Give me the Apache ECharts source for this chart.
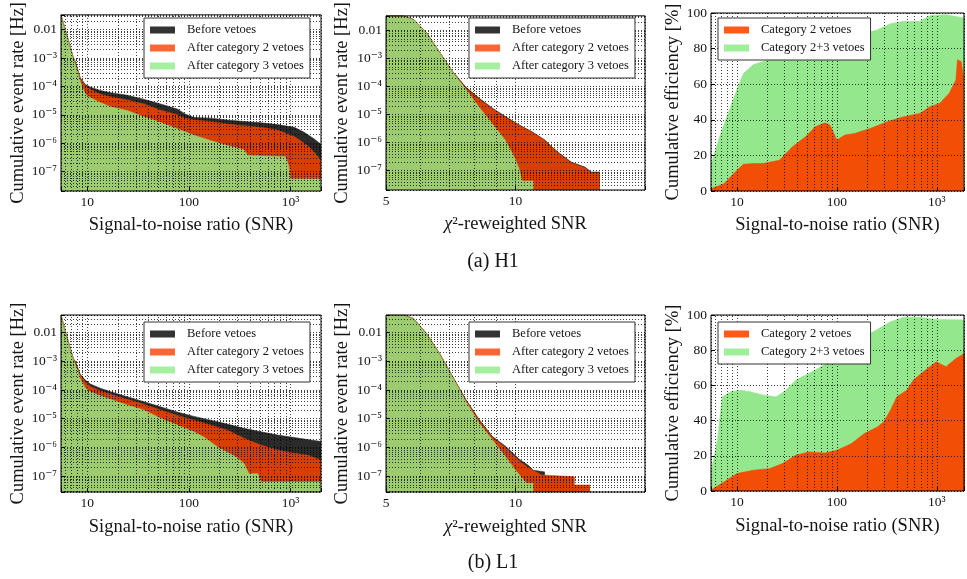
<!DOCTYPE html>
<html><head><meta charset="utf-8">
<script src="https://cdn.jsdelivr.net/npm/echarts@6/dist/echarts.min.js"></script>
<style>html,body{margin:0;padding:0;background:#fff}#c{width:967px;height:579px}</style>
</head><body><div id="c"></div>
<script>
// ---------------- data ----------------
// Cumulative event rate [Hz] vs SNR, H1
const h1SnrBefore = [[5.5,0.033],[6.3,6.4e-3],[7.3,1.0e-3],[7.6,7.6e-4],[8.5,2.0e-4],[9.55,1.17e-4],[10.7,9.4e-5],[13.4,7.2e-5],[16.9,6.0e-5],[24.6,4.9e-5],[36,3.5e-5],[52.5,2.4e-5],[76.7,1.6e-5],[92.7,1.05e-5],[112,8.0e-6],[163,7.6e-6],[238,6.5e-6],[348,5.8e-6],[510,5.2e-6],[745,4.5e-6],[1090,3.6e-6],[1366,2.4e-6],[1717,1.4e-6],[2000,9e-7]];
const h1SnrCat2 = [[5.5,0.033],[6.3,6.3e-3],[7.3,9.8e-4],[7.6,7.4e-4],[8.5,1.9e-4],[9.55,1.05e-4],[10.7,7.9e-5],[13.4,5.3e-5],[16.9,4.3e-5],[24.6,3.3e-5],[36,2.4e-5],[52.5,1.45e-5],[76.7,1.0e-5],[92.7,7.6e-6],[112,6.5e-6],[163,5.8e-6],[238,4.7e-6],[348,4.1e-6],[510,3.6e-6],[745,2.9e-6],[935,2.1e-6],[1090,1.7e-6],[1260,1.2e-6],[1470,8.2e-7],[1717,4.8e-7],[2000,2.5e-7]];
const h1SnrCat3 = [[5.5,0.033],[6.3,6.2e-3],[7.3,9.5e-4],[8.0,3.5e-4],[8.5,1.5e-4],[9.55,5.3e-5],[10.7,4.0e-5],[13.4,2.7e-5],[16.9,1.9e-5],[24.6,1.4e-5],[36,8.5e-6],[52.5,5.4e-6],[76.7,3.2e-6],[112,1.9e-6],[163,1.23e-6],[238,8.3e-7],[348,5.9e-7],[380,3.7e-7],[900,3.3e-7],[960,1.6e-7],[1000,5.5e-8],[2000,5.5e-8]];
// Cumulative event rate [Hz] vs chi^2-reweighted SNR, H1
const h1ChiBefore = [[5,0.033],[5.49,0.033],[5.79,0.025],[6.21,8.5e-3],[6.66,1.7e-3],[7.15,3.4e-4],[7.67,9.5e-5],[8.24,3.8e-5],[8.84,1.7e-5],[9.48,8.5e-6],[10.2,4.3e-6],[10.9,2.5e-6],[11.7,1.25e-6],[12.1,7.5e-7],[12.6,4.4e-7],[13.5,2.0e-7],[14.5,1.35e-7],[15.0,9e-8],[15.7,9e-8]];
const h1ChiCat2 = [[5,0.033],[5.49,0.033],[5.79,0.025],[6.21,8.4e-3],[6.66,1.7e-3],[7.15,3.3e-4],[7.67,8.9e-5],[8.24,3.5e-5],[8.84,1.6e-5],[9.48,8.0e-6],[10.2,4.1e-6],[10.9,2.4e-6],[11.7,1.2e-6],[12.1,7.2e-7],[12.6,4.2e-7],[13.5,1.9e-7],[14.5,1.27e-7],[15.0,8.5e-8],[15.7,8.5e-8]];
const h1ChiCat3 = [[5,0.033],[5.49,0.033],[5.79,0.025],[6.21,8.4e-3],[6.66,1.7e-3],[7.15,3.3e-4],[7.4,1.6e-4],[7.67,7.9e-5],[8.24,1.8e-5],[8.84,4.6e-6],[9.48,1.2e-6],[10.0,2.5e-7],[10.2,1.1e-7],[10.36,4.3e-8],[11.0,4.3e-8]];
// Cumulative efficiency [%] vs SNR, H1
const h1EffCat2 = [[5.5,1.3],[7.4,4.1],[10,11.7],[11.6,15],[14.6,15.4],[18.2,15.4],[26.6,17.3],[35.9,24.8],[48.6,30.5],[60.8,36.1],[76.2,38.3],[85.3,37],[100,28.6],[120,31.4],[150,32.3],[218,35.2],[318,38.9],[464,41.7],[676,43.6],[850,47.4],[1062,49.2],[1330,54.9],[1550,62.4],[1607,73.7],[1750,72.7],[1850,63]];
const h1EffCat23 = [[5.5,15],[6.85,32],[8.6,47],[10,57],[11.6,66],[14.6,71],[22.9,74.5],[33.3,76.5],[48.6,79.3],[100,83],[150,86.8],[254,90.6],[343,94],[464,95.3],[676,95.3],[850,98.5],[1233,99],[1550,98],[2000,97]];
// L1
const l1SnrBefore = [[5.5,0.0407],[6.3,7e-3],[7.3,1.2e-3],[7.6,1.0e-3],[8.5,3.5e-4],[9.55,2.2e-4],[10.7,1.6e-4],[13.4,1.15e-4],[16.9,8.7e-5],[24.6,5.8e-5],[36,3.9e-5],[52.5,2.6e-5],[76.7,1.7e-5],[112,1.2e-5],[163,8.9e-6],[238,6.5e-6],[348,4.6e-6],[510,3.5e-6],[745,2.7e-6],[1090,2.2e-6],[2000,1.6e-6]];
const l1SnrCat2 = [[5.5,0.0407],[6.3,6.9e-3],[7.3,1.18e-3],[7.6,9.5e-4],[8.5,3.3e-4],[9.55,1.9e-4],[10.7,1.3e-4],[13.4,9.3e-5],[16.9,7.2e-5],[24.6,4.7e-5],[36,3.2e-5],[52.5,2.0e-5],[76.7,1.3e-5],[112,8.9e-6],[163,6.0e-6],[238,4.0e-6],[348,2.1e-6],[510,1.2e-6],[745,8.1e-7],[1090,6.2e-7],[1470,5.4e-7],[2000,3.6e-7]];
const l1SnrCat3 = [[5.5,0.0407],[6.3,6.8e-3],[7.3,1.1e-3],[8.0,5e-4],[8.5,2.5e-4],[9.55,1.15e-4],[10.7,8.7e-5],[13.4,6.2e-5],[16.9,4.7e-5],[24.6,3.0e-5],[36,2.0e-5],[52.5,1.03e-5],[76.7,6.0e-6],[112,3.5e-6],[140,2.3e-6],[200,9.3e-7],[290,4.7e-7],[348,2.8e-7],[390,1.2e-7],[480,1.2e-7],[510,6.3e-8],[2000,6.3e-8]];
const l1ChiBefore = [[5,0.0407],[5.49,0.0407],[5.79,0.031],[6.21,9.3e-3],[6.66,1.9e-3],[7.15,2.9e-4],[7.67,4.6e-5],[8.24,9.2e-6],[8.84,2.4e-6],[9.48,1.1e-6],[10.2,3.9e-7],[10.7,2.4e-7],[11.0,1.6e-7],[11.7,1.4e-7]];
const l1ChiCat2 = [[5,0.0407],[5.49,0.0407],[5.79,0.031],[6.21,9.2e-3],[6.66,1.85e-3],[7.15,2.8e-4],[7.67,4.4e-5],[8.24,8.7e-6],[8.84,2.2e-6],[9.48,1.0e-6],[10.2,3.4e-7],[10.7,2.0e-7],[11.5,1.1e-7],[11.6,9.5e-8],[13.7,9.5e-8],[13.7,4.9e-8],[14.9,4.9e-8]];
const l1ChiCat3 = [[5,0.0407],[5.49,0.0407],[5.79,0.031],[6.21,9.2e-3],[6.66,1.85e-3],[7.15,2.8e-4],[7.67,3.9e-5],[8.24,6.9e-6],[8.84,1.8e-6],[9.48,4.7e-7],[10.0,1.6e-7],[10.45,7.3e-8],[10.6,5.6e-8],[11.0,5.6e-8]];
const l1EffCat2 = [[5.5,0.5],[7.4,5.1],[10,9.9],[14.6,11.8],[21.2,12.7],[28.6,15.6],[38.7,20.3],[52.4,22.2],[76.2,21.6],[100,23.1],[139,26.9],[188,32.6],[254,36.4],[295,39.3],[343,45.9],[398,53.5],[500,57.3],[582,63],[730,67.7],[985,73.4],[1233,70.6],[1550,75.3],[2000,79]];
const l1EffCat23 = [[5.5,10.8],[6.37,28.8],[7.13,53.5],[8.6,56.4],[10.8,57.3],[13.5,56.4],[18.2,54.5],[24.7,53.5],[30.9,57.3],[38.7,63],[60.8,68.7],[100,76.3],[139,82],[218,89.6],[343,96.2],[464,98.7],[676,98.7],[985,97.5],[2000,97.2]];

// tick labels
const rateTicks = [1e-7,1e-6,1e-5,1e-4,1e-3,1e-2];
const rateTickLabels = ['10\u207B\u2077','10\u207B\u2076','10\u207B\u2075','10\u207B\u2074','10\u207B\u00B3','0.01'];
const snrTicks = [10,100,1000];
const snrTickLabels = ['10','100','10\u00B3'];
const chiTicks = [5,10];
const chiTickLabels = ['5','10'];

const rateNames = ['Before vetoes','After category 2 vetoes','After category 3 vetoes'];
const effNames = ['Category 2 vetoes','Category 2+3 vetoes'];

// ---------------- chart ----------------
const FONT = '"Liberation Serif","DejaVu Serif",serif';
const TXT = '#141414';
const gridLine = {color:'#000', width:1, type:[1,2], opacity:0.75};

function tickFmt(ticks, labels){
  return function(v){
    for (let i=0;i<ticks.length;i++){ if (Math.abs(v/ticks[i]-1) < 1e-6) return labels[i]; }
    return '';
  };
}
function minorVals(min, max){
  const out=[];
  for (let k=-9;k<=4;k++){ for (let m=2;m<=9;m++){ const v=m*Math.pow(10,k); if (v>min*1.001 && v<max*0.999) out.push(v);} }
  return out;
}
function baseAxis(gi, extra){
  return Object.assign({
    gridIndex: gi, z: 3,
    axisLine:{show:false},
    axisTick:{show:true, inside:true, length:4, lineStyle:{color:'#000', width:1}},
    splitLine:{show:true, lineStyle:gridLine},
    nameLocation:'middle',
    nameTextStyle:{fontFamily:FONT, fontSize:18.5, color:TXT},
    axisLabel:{fontFamily:FONT, fontSize:13.5, color:TXT, margin:4}
  }, extra);
}
function snrX(gi, nameGap, max){
  return baseAxis(gi, {type:'log', logBase:10, min:5.5, max:max, name:'Signal-to-noise ratio (SNR)', nameGap:nameGap,
    axisLabel:{fontFamily:FONT, fontSize:13.5, color:TXT, margin:4, formatter:tickFmt(snrTicks, snrTickLabels)}});
}
function chiX(gi, nameGap){
  return baseAxis(gi, {type:'log', logBase:10, min:5, max:20, name:'{i|\u03C7}\u00B2-reweighted SNR', nameGap:nameGap,
    nameTextStyle:{fontFamily:FONT, fontSize:18.5, color:TXT, rich:{i:{fontFamily:FONT, fontSize:18.5, fontStyle:'italic', color:TXT}}},
    axisLabel:{fontFamily:FONT, fontSize:13.5, color:TXT, margin:4, formatter:tickFmt(chiTicks, chiTickLabels)}});
}
function rateY(gi, min, max, nameGap){
  return baseAxis(gi, {type:'log', logBase:10, min:min, max:max, name:'Cumulative event rate [Hz]', nameGap:nameGap,
    axisLabel:{fontFamily:FONT, fontSize:13.5, color:TXT, margin:4, formatter:tickFmt(rateTicks, rateTickLabels)}});
}
function effY(gi, nameGap){
  return baseAxis(gi, {type:'value', min:0, max:100, interval:20, name:'Cumulative efficiency [%]', nameGap:nameGap});
}
function area(name, gi, data, fill, legendColor, marks){
  const s = {type:'line', name:name, xAxisIndex:gi, yAxisIndex:gi, data:data, symbol:'none', silent:true,
    lineStyle:{width:0.6, color:fill}, itemStyle:{color:legendColor},
    areaStyle:{color:fill, opacity:1, origin:'start'}, z:2, animation:false};
  if (marks) s.markLine = {silent:true, symbol:['none','none'], label:{show:false}, lineStyle:gridLine,
    emphasis:{disabled:true}, animation:false, z:5, precision:20,
    data: marks.x.map(v=>({xAxis:v})).concat(marks.y.map(v=>({yAxis:v})))};
  return s;
}
function legend(left, top, names, colors){
  return {orient:'vertical', left:left, top:top, itemWidth:25, itemHeight:7, itemGap:4, icon:'rect',
    padding:[5,6,5,6], borderColor:'#333', borderWidth:1, backgroundColor:'#fff', borderRadius:0, z:10,
    selectedMode:false,
    textStyle:{fontFamily:FONT, fontSize:12.5, color:TXT, lineHeight:14, padding:[0,0,0,7]},
    data:names.map((n,i)=>({name:n, itemStyle:{color:colors[i], borderWidth:0}}))};
}

const C_BLK='#2b2b2b', C_RED='#d73f00', C_GRN='#9dcc70';
const L_BLK='#333333', L_RED='#ff6633', L_GRN='#a6eea0';
const E_RED='#f24e06', E_GRN='#95e78e', EL_RED='#ff5a1a', EL_GRN='#9fee99';

const gridBox = {show:true, borderColor:'#000', borderWidth:1, backgroundColor:'transparent', z:6};
const grids = [
  Object.assign({left:61, top:13, width:260, height:178}, gridBox),
  Object.assign({left:386, top:13, width:259, height:177}, gridBox),
  Object.assign({left:711, top:13, width:257, height:178}, gridBox),
  Object.assign({left:61, top:315, width:260, height:177}, gridBox),
  Object.assign({left:386, top:315, width:259, height:177}, gridBox),
  Object.assign({left:711, top:315, width:257, height:176}, gridBox)
];

const yR1=[2.06e-8,0.033], yR2=[2.06e-8,0.033], yR4=[2.8e-8,0.0407], yR5=[2.8e-8,0.0407];
const effMax = 1868;

const option = {
  animation:false,
  backgroundColor:'#fff',
  grid: grids,
  xAxis:[snrX(0,25,2000), chiX(1,25), snrX(2,25,effMax), snrX(3,26,2000), chiX(4,26), snrX(5,26,effMax)],
  yAxis:[rateY(0,yR1[0],yR1[1],33), rateY(1,yR2[0],yR2[1],34), effY(2,27),
         rateY(3,yR4[0],yR4[1],33), rateY(4,yR5[0],yR5[1],34), effY(5,27)],
  legend:[
    legend(144,18,rateNames,[L_BLK,L_RED,L_GRN]),
    legend(469,18,rateNames,[L_BLK,L_RED,L_GRN]),
    legend(718,18,effNames,[EL_RED,EL_GRN]),
    legend(144,322,rateNames,[L_BLK,L_RED,L_GRN]),
    legend(469,322,rateNames,[L_BLK,L_RED,L_GRN]),
    legend(718,322,effNames,[EL_RED,EL_GRN])
  ],
  series:[
    area(rateNames[0],0,h1SnrBefore,C_BLK,L_BLK),
    area(rateNames[1],0,h1SnrCat2,C_RED,L_RED),
    area(rateNames[2],0,h1SnrCat3,C_GRN,L_GRN,{x:minorVals(5.5,2000), y:minorVals(yR1[0],yR1[1])}),
    area(rateNames[0],1,h1ChiBefore,C_BLK,L_BLK),
    area(rateNames[1],1,h1ChiCat2,C_RED,L_RED),
    area(rateNames[2],1,h1ChiCat3,C_GRN,L_GRN,{x:minorVals(5,20), y:minorVals(yR2[0],yR2[1])}),
    area(effNames[1],2,h1EffCat23,E_GRN,EL_GRN),
    area(effNames[0],2,h1EffCat2,E_RED,EL_RED,{x:minorVals(5.5,effMax), y:[]}),
    area(rateNames[0],3,l1SnrBefore,C_BLK,L_BLK),
    area(rateNames[1],3,l1SnrCat2,C_RED,L_RED),
    area(rateNames[2],3,l1SnrCat3,C_GRN,L_GRN,{x:minorVals(5.5,2000), y:minorVals(yR4[0],yR4[1])}),
    area(rateNames[0],4,l1ChiBefore,C_BLK,L_BLK),
    area(rateNames[1],4,l1ChiCat2,C_RED,L_RED),
    area(rateNames[2],4,l1ChiCat3,C_GRN,L_GRN,{x:minorVals(5,20), y:minorVals(yR5[0],yR5[1])}),
    area(effNames[1],5,l1EffCat23,E_GRN,EL_GRN),
    area(effNames[0],5,l1EffCat2,E_RED,EL_RED,{x:minorVals(5.5,effMax), y:[]})
  ],
  graphic:[
    {type:'text', x:493, y:262, style:{text:'(a) H1', fontFamily:FONT, fontSize:20, fill:TXT, align:'center', verticalAlign:'middle', textAlign:'center', textVerticalAlign:'middle'}},
    {type:'text', x:493, y:563, style:{text:'(b) L1', fontFamily:FONT, fontSize:20, fill:TXT, align:'center', verticalAlign:'middle', textAlign:'center', textVerticalAlign:'middle'}}
  ]
};
const chart = echarts.init(document.getElementById('c'), null, {renderer:'canvas'});
chart.setOption(option);
</script>
</body></html>
